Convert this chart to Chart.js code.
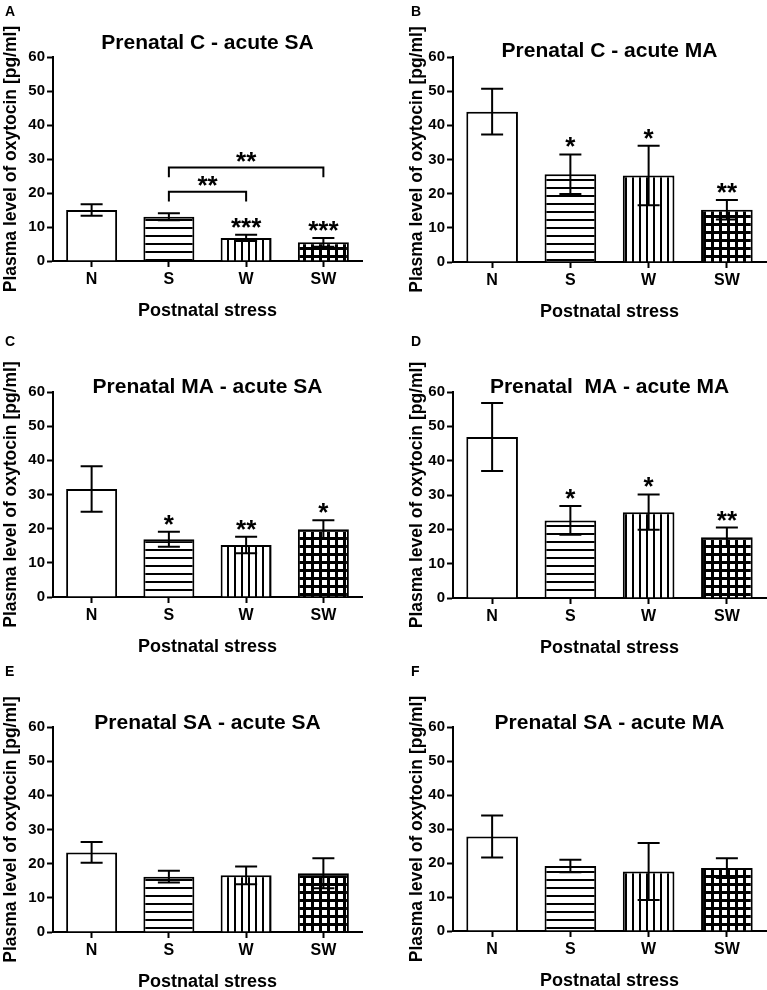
<!DOCTYPE html>
<html>
<head>
<meta charset="utf-8">
<script src="https://cdn.jsdelivr.net/npm/chart.js@4.4.1/dist/chart.umd.min.js"></script>
<style>
  html, body { margin: 0; padding: 0; background: #fff; }
  #wrap { position: relative; width: 767px; height: 990px; overflow: hidden; }
  canvas { position: absolute; }
</style>
</head>
<body>
<div id="wrap"></div>
<script>
// ---------------- DATA ----------------
const categories = ['N', 'S', 'W', 'SW'];
const yTicks = [0, 10, 20, 30, 40, 50, 60];
const panelLetters = ['A', 'B', 'C', 'D', 'E', 'F'];
const panelTitles = [
  'Prenatal C - acute SA',
  'Prenatal C - acute MA',
  'Prenatal MA - acute SA',
  'Prenatal  MA - acute MA',
  'Prenatal SA - acute SA',
  'Prenatal SA - acute MA'
];
const yAxisTitle = 'Plasma level of oxytocin [pg/ml]';
const xAxisTitle = 'Postnatal stress';

const meanA = [15.0, 13.0, 6.8, 5.5];
const errA  = [1.7, 1.05, 0.9, 1.3];
const starsA = ['', '', '***', '***'];

const meanB = [44.0, 25.7, 25.3, 15.3];
const errB  = [6.7, 5.8, 8.7, 2.85];
const starsB = ['', '*', '*', '**'];

const meanC = [31.6, 16.9, 15.2, 19.8];
const errC  = [6.65, 2.2, 2.4, 2.7];
const starsC = ['', '*', '**', '*'];

const meanD = [46.9, 22.6, 25.0, 17.7];
const errD  = [9.9, 4.2, 5.15, 2.8];
const starsD = ['', '*', '*', '**'];

const meanE = [23.3, 16.2, 16.6, 17.2];
const errE  = [3.05, 1.7, 2.6, 4.4];
const starsE = ['', '', '', ''];

const meanF = [27.8, 19.1, 17.5, 18.5];
const errF  = [6.2, 1.85, 8.4, 2.9];
const starsF = ['', '', '', ''];

// significance brackets (panel A): category indices, bracket level, end drop, label
const bracketFromA = [1, 1];
const bracketToA   = [2, 3];
const bracketLevelA = [20.4, 27.5];
const bracketEndA   = [17.5, 24.6];
const bracketLabelA = ['**', '**'];

// ---------------- LAYOUT (positions only) ----------------
const FONT = '"Liberation Sans", Arial, sans-serif';
const geom = [
  { x: 0,   y: 0,   w: 384, h: 330, l: 53, t: 57,  r: 362, b: 261, yTitle: 11, titleDy: -8 },
  { x: 384, y: 0,   w: 383, h: 330, l: 69, t: 57,  r: 382, b: 262, yTitle: 33, titleDy: 0 },
  { x: 0,   y: 330, w: 384, h: 330, l: 53, t: 62,  r: 362, b: 267, yTitle: 11, titleDy: 1 },
  { x: 384, y: 330, w: 383, h: 330, l: 69, t: 62,  r: 382, b: 268, yTitle: 33, titleDy: 1 },
  { x: 0,   y: 660, w: 384, h: 330, l: 53, t: 67,  r: 362, b: 272, yTitle: 11, titleDy: 1.5 },
  { x: 384, y: 660, w: 383, h: 330, l: 69, t: 67,  r: 382, b: 271, yTitle: 33, titleDy: 1.5 }
];

function makePattern(kind) {
  const c = document.createElement('canvas');
  const ctx = c.getContext('2d');
  if (kind === 'h') {
    c.width = 8; c.height = 8;
    ctx.fillStyle = '#fff'; ctx.fillRect(0, 0, 8, 8);
    ctx.fillStyle = '#000'; ctx.fillRect(0, 3, 8, 2);
  } else if (kind === 'v') {
    c.width = 7; c.height = 7;
    ctx.fillStyle = '#fff'; ctx.fillRect(0, 0, 7, 7);
    ctx.fillStyle = '#000'; ctx.fillRect(3, 0, 2, 7);
  } else {
    c.width = 8; c.height = 8;
    ctx.fillStyle = '#000'; ctx.fillRect(0, 0, 8, 8);
    ctx.fillStyle = '#fff'; ctx.fillRect(2, 2, 5, 5);
  }
  return ctx.createPattern(c, 'repeat');
}

const STAR_FONT = 'bold 26px ' + FONT;

const extrasPlugin = {
  id: 'extras',
  afterDatasetsDraw(chart) {
    const o = chart.options.plugins.extras;
    const ctx = chart.ctx;
    const ys = chart.scales.y;
    const xs = chart.scales.x;
    const meta = chart.getDatasetMeta(0);
    ctx.save();
    ctx.strokeStyle = '#000';
    ctx.fillStyle = '#000';
    ctx.lineWidth = 2;
    ctx.lineCap = 'butt';
    // error bars
    meta.data.forEach((el, i) => {
      const m = o.mean[i], e = o.err[i];
      const yTop = ys.getPixelForValue(m + e);
      const yBot = ys.getPixelForValue(m - e);
      const cw = 11;
      ctx.beginPath();
      ctx.moveTo(el.x, yBot); ctx.lineTo(el.x, yTop);
      ctx.moveTo(el.x - cw, yTop); ctx.lineTo(el.x + cw, yTop);
      ctx.moveTo(el.x - cw, yBot); ctx.lineTo(el.x + cw, yBot);
      ctx.stroke();
      if (o.stars[i]) {
        ctx.font = STAR_FONT;
        ctx.textAlign = 'center';
        ctx.textBaseline = 'alphabetic';
        ctx.fillText(o.stars[i], el.x, yTop + 1);
      }
    });
    // brackets
    (o.brFrom || []).forEach((f, k) => {
      const x1 = xs.getPixelForValue(f);
      const x2 = xs.getPixelForValue(o.brTo[k]);
      const yl = ys.getPixelForValue(o.brLevel[k]);
      const ye = ys.getPixelForValue(o.brEnd[k]);
      ctx.beginPath();
      ctx.moveTo(x1, ye); ctx.lineTo(x1, yl); ctx.lineTo(x2, yl); ctx.lineTo(x2, ye);
      ctx.stroke();
      ctx.font = STAR_FONT;
      ctx.textAlign = 'center';
      ctx.textBaseline = 'alphabetic';
      ctx.fillText(o.brLabel[k], (x1 + x2) / 2, yl + 2);
    });
    // title
    const ca = chart.chartArea;
    ctx.font = 'bold 21px ' + FONT;
    ctx.textAlign = 'center';
    ctx.textBaseline = 'alphabetic';
    ctx.fillText(o.title, (ca.left + ca.right) / 2, ca.top + o.titleDy);
    // panel letter
    ctx.font = 'bold 14px ' + FONT;
    ctx.textAlign = 'left';
    ctx.fillText(o.letter, o.letterX, 16);
    ctx.restore();
  }
};

const panels = [
  { mean: meanA, err: errA, stars: starsA, brFrom: bracketFromA, brTo: bracketToA, brLevel: bracketLevelA, brEnd: bracketEndA, brLabel: bracketLabelA },
  { mean: meanB, err: errB, stars: starsB },
  { mean: meanC, err: errC, stars: starsC },
  { mean: meanD, err: errD, stars: starsD },
  { mean: meanE, err: errE, stars: starsE },
  { mean: meanF, err: errF, stars: starsF }
];

const wrap = document.getElementById('wrap');
const patterns = [null, makePattern('h'), makePattern('v'), makePattern('g')];

panels.forEach((p, idx) => {
  const g = geom[idx];
  const cv = document.createElement('canvas');
  cv.width = g.w; cv.height = g.h;
  cv.style.left = g.x + 'px'; cv.style.top = g.y + 'px';
  cv.style.width = g.w + 'px'; cv.style.height = g.h + 'px';
  wrap.appendChild(cv);

  const yTitleFont = 17.5, xTitleFont = 18;
  const padLeft = g.yTitle - yTitleFont * 1.2 / 2;
  const yWidth = g.l - padLeft;
  const xHeight = 50 + xTitleFont * 1.2 / 2;
  const padBottom = g.h - g.b - xHeight;

  new Chart(cv, {
    type: 'bar',
    data: {
      labels: categories,
      datasets: [{
        data: p.mean,
        backgroundColor: ['#ffffff', patterns[1], patterns[2], patterns[3]],
        borderColor: '#000',
        borderWidth: 2,
        categoryPercentage: 1,
        barPercentage: 0.66
      }]
    },
    options: {
      responsive: false,
      animation: false,
      events: [],
      layout: { padding: { left: padLeft, top: g.t, right: g.w - g.r, bottom: padBottom } },
      plugins: {
        legend: { display: false },
        tooltip: { enabled: false },
        title: { display: false },
        extras: Object.assign({}, p, {
          title: panelTitles[idx], titleDy: g.titleDy,
          letter: panelLetters[idx], letterX: idx % 2 === 0 ? 5 : 27
        })
      },
      scales: {
        x: {
          z: 1,
          afterFit: s => { s.height = xHeight; },
          grid: { offset: false, drawOnChartArea: false, drawTicks: true, tickLength: 6, tickWidth: 2, tickColor: '#000' },
          border: { display: true, color: '#000', width: 2 },
          ticks: { color: '#000', font: { family: FONT, size: 16, weight: 'bold' }, padding: 3 },
          title: { display: true, text: xAxisTitle, color: '#000', font: { family: FONT, size: xTitleFont, weight: 'bold' }, padding: 0 }
        },
        y: {
          z: 1,
          min: 0, max: 60,
          afterFit: s => { s.width = yWidth; },
          afterBuildTicks: s => { s.ticks = yTicks.map(v => ({ value: v })); },
          grid: { drawOnChartArea: false, drawTicks: true, tickLength: 6, tickWidth: 2, tickColor: '#000' },
          border: { display: true, color: '#000', width: 2 },
          ticks: { color: '#000', font: { family: FONT, size: 15, weight: 'bold' }, padding: 2 },
          title: { display: true, text: yAxisTitle, color: '#000', font: { family: FONT, size: yTitleFont, weight: 'bold' }, padding: 0 }
        }
      }
    },
    plugins: [extrasPlugin]
  });
});
</script>
</body>
</html>
